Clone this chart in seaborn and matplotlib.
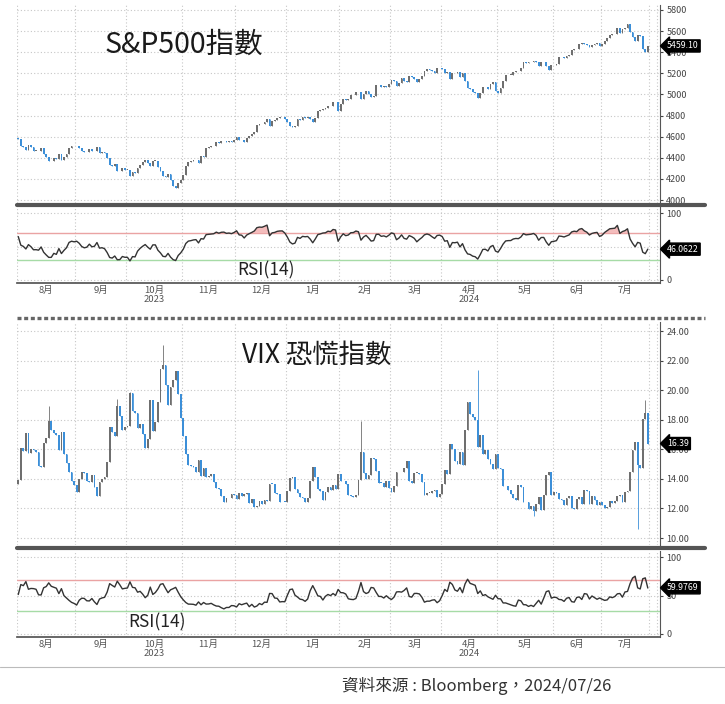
import matplotlib
matplotlib.use("Agg")
import matplotlib.pyplot as plt
from matplotlib.lines import Line2D
import numpy as np
import pandas as pd
import seaborn as sns

# ---- data: daily closes (Aug 2023 - Jul 2024) ----
# a few sessions before Aug 1 are only used to seed the RSI(14)
spx_warmup = [4389, 4366, 4381, 4348, 4329, 4378, 4376, 4396, 4450, 4455, 4446, 4412, 4399,
              4410, 4439, 4472, 4510, 4505, 4522, 4555, 4565, 4535, 4536, 4554, 4567, 4566,
              4537, 4582, 4589]
vix_warmup = [13.88, 13.20, 12.91, 13.44, 14.25, 13.74, 13.43, 13.54, 13.59, 13.57, 14.18, 15.44,
              14.83, 14.84, 14.75, 13.54, 13.61, 13.34, 13.48, 13.30, 13.76, 13.99, 13.60, 13.91,
              13.86, 13.19, 14.41, 13.33, 13.63]

spx_months = [
    [4577, 4513, 4502, 4478, 4518, 4499, 4468, 4469, 4464, 4490, 4437, 4404, 4370, 4370, 4400,
     4388, 4436, 4376, 4406, 4433, 4497, 4514, 4508],
    [4516, 4497, 4465, 4451, 4457, 4487, 4462, 4467, 4505, 4450, 4454, 4444, 4402, 4330, 4320,
     4337, 4274, 4275, 4300, 4288],
    [4288, 4229, 4263, 4258, 4308, 4336, 4358, 4377, 4350, 4327, 4373, 4373, 4314, 4278, 4224,
     4217, 4248, 4186, 4137, 4117, 4166, 4194],
    [4237, 4318, 4358, 4366, 4378, 4383, 4347, 4415, 4411, 4496, 4502, 4508, 4514, 4547, 4538,
     4556, 4559, 4550, 4555, 4551, 4568],
    [4595, 4569, 4567, 4549, 4585, 4604, 4622, 4644, 4707, 4720, 4719, 4740, 4768, 4698, 4747,
     4755, 4775, 4782, 4783, 4770],
    [4743, 4705, 4689, 4697, 4764, 4756, 4783, 4780, 4784, 4766, 4739, 4780, 4840, 4851, 4865,
     4869, 4894, 4891, 4928, 4925, 4846],
    [4906, 4959, 4943, 4954, 4995, 4998, 5027, 5022, 4953, 5001, 5030, 5006, 4976, 4982, 5087,
     5089, 5070, 5078, 5069, 5096],
    [5137, 5131, 5079, 5105, 5157, 5124, 5117, 5175, 5165, 5150, 5117, 5149, 5179, 5225, 5241,
     5234, 5218, 5204, 5248, 5254],
    [5243, 5205, 5211, 5147, 5204, 5202, 5209, 5161, 5199, 5123, 5061, 5051, 5022, 5011, 4967,
     5011, 5070, 5072, 5048, 5100, 5116, 5036],
    [5018, 5064, 5128, 5181, 5187, 5188, 5214, 5223, 5221, 5247, 5308, 5297, 5303, 5308, 5321,
     5307, 5268, 5305, 5306, 5267, 5236, 5278],
    [5283, 5291, 5354, 5352, 5347, 5361, 5375, 5421, 5434, 5431, 5473, 5487, 5473, 5465, 5448,
     5469, 5478, 5483, 5460],
    [5475, 5509, 5537, 5567, 5572, 5577, 5633, 5585, 5615, 5631, 5667, 5589, 5545, 5505, 5564,
     5555, 5427, 5399, 5459.10],
]

vix_months = [
    [13.93, 16.09, 15.92, 17.10, 15.77, 15.99, 15.96, 15.85, 14.84, 14.82, 16.46, 16.78, 17.89,
     17.30, 17.13, 16.97, 15.98, 17.20, 15.68, 15.08, 14.45, 13.88, 13.57],
    [13.09, 14.02, 14.45, 14.40, 13.84, 13.80, 14.23, 13.48, 12.82, 13.79, 14.00, 14.11, 15.14,
     17.54, 17.20, 16.90, 18.94, 18.22, 17.34, 17.52],
    [17.61, 19.78, 18.58, 18.49, 17.45, 17.70, 17.03, 16.09, 16.69, 19.32, 17.21, 17.88, 19.22,
     21.40, 21.71, 20.37, 18.97, 20.19, 20.68, 21.27, 19.75, 18.14],
    [16.87, 15.66, 14.91, 14.89, 14.81, 14.45, 15.29, 14.17, 14.76, 14.16, 14.18, 14.32, 13.80,
     13.41, 13.35, 12.85, 12.46, 12.69, 12.69, 12.98, 12.92],
    [12.63, 13.08, 12.85, 12.97, 13.06, 12.35, 12.63, 12.07, 12.19, 12.48, 12.28, 12.56, 12.53,
     13.67, 13.65, 13.03, 12.99, 12.43, 12.47, 12.45],
    [13.20, 14.04, 14.13, 13.35, 13.08, 12.76, 12.69, 12.44, 12.70, 13.84, 14.79, 14.13, 13.30,
     13.19, 12.55, 13.14, 13.45, 13.26, 13.60, 13.31, 14.35],
    [13.88, 13.85, 13.67, 12.93, 12.83, 12.79, 12.93, 13.93, 15.85, 14.38, 14.01, 14.24, 15.42,
     15.34, 14.54, 13.75, 13.74, 13.43, 13.84, 13.40],
    [13.11, 13.49, 14.46, 14.50, 14.44, 14.74, 15.23, 13.88, 13.75, 14.40, 14.41, 14.33, 13.82,
     12.92, 13.06, 13.06, 13.19, 13.24, 12.78, 13.01],
    [13.65, 14.61, 14.33, 16.35, 16.03, 15.19, 14.98, 15.80, 14.91, 17.31, 19.23, 18.40, 18.21,
     18.00, 16.14, 16.94, 15.69, 15.97, 15.37, 15.03, 14.67, 15.65],
    [14.72, 14.68, 13.49, 13.49, 13.23, 13.00, 12.69, 12.55, 13.60, 13.42, 12.45, 12.42, 11.99,
     12.15, 11.86, 12.29, 12.77, 11.93, 12.92, 14.28, 14.47, 12.92],
    [13.11, 13.06, 12.63, 12.58, 12.22, 12.74, 12.85, 12.04, 11.94, 12.66, 12.75, 12.30, 13.28,
     13.20, 12.33, 12.84, 12.55, 12.24, 12.44],
    [12.22, 12.03, 12.09, 12.48, 12.37, 12.51, 12.85, 12.89, 12.46, 13.12, 13.19, 14.48, 15.93,
     16.52, 14.91, 14.72, 18.04, 18.46, 16.39],
]

# intraday extremes visible as long wicks on the VIX bars: (month no., session in month, value)
vix_wick_highs = [(2, 14, 23.08), (2, 1, 19.90), (6, 8, 17.94), (8, 14, 21.36), (11, 17, 19.36),
                  (0, 12, 18.90), (1, 16, 19.40)]
vix_wick_lows = [(11, 14, 10.62), (9, 14, 11.52)]

month_labels = ["8月", "9月", "10月\n2023", "11月", "12月", "1月", "2月", "3月",
                "4月\n2024", "5月", "6月", "7月"]
extra_sessions = 4          # Jul 29 - Aug 1 2024, empty space at the right edge

spx_last_label = "5459.10"
vix_last_label = "16.39"
spx_rsi_last = 46.0622
vix_rsi_last = 59.9769

UP = "#6f6f6f"
DOWN = "#3c8fd8"
GRID = "#c6c6c6"
W, H = 725, 704


def rsi(closes, n=14):
    c = np.asarray(closes, dtype=float)
    d = np.diff(c)
    gain, loss = np.clip(d, 0, None), np.clip(-d, 0, None)
    ag, al = gain[:n].mean(), loss[:n].mean()
    out = np.full(len(c), np.nan)
    out[n] = 100 - 100 / (1 + ag / al)
    for i in range(n + 1, len(c)):
        ag = (ag * (n - 1) + gain[i - 1]) / n
        al = (al * (n - 1) + loss[i - 1]) / n
        out[i] = 100 - 100 / (1 + ag / al)
    return out


def build(warmup, months, wick_hi=(), wick_lo=()):
    closes = np.concatenate([np.asarray(m, float) for m in months])
    opens = np.concatenate([[warmup[-1]], closes[:-1]])
    highs = np.maximum(opens, closes)
    lows = np.minimum(opens, closes)
    starts = np.cumsum([0] + [len(m) for m in months])
    for mi, di, v in wick_hi:
        highs[starts[mi] + di] = max(highs[starts[mi] + di], v)
    for mi, di, v in wick_lo:
        lows[starts[mi] + di] = min(lows[starts[mi] + di], v)
    r = rsi(list(warmup) + list(closes))[len(warmup):]
    return pd.DataFrame({"x": np.arange(len(closes)), "open": opens, "high": highs,
                         "low": lows, "close": closes, "rsi": r}), starts


def rect(top, bottom):
    return [17 / W, 1 - bottom / H, 643 / W, (bottom - top) / H]


def draw_candles(ax, df, min_body):
    up = df["close"] >= df["open"]
    for mask, col in ((up, UP), (~up, DOWN)):
        d = df[mask]
        ax.vlines(d["x"], d["low"], d["high"], color=col, lw=0.6, zorder=3)
        body = np.maximum((d["close"] - d["open"]).abs(), min_body)
        ax.bar(d["x"], body, bottom=np.minimum(d["open"], d["close"]), width=0.72,
               color=col, linewidth=0, zorder=4)


def style_axis(ax, bounds, centers, show_months):
    for s in ("top", "left"):
        ax.spines[s].set_visible(False)
    ax.spines["right"].set_color("#555555")
    ax.spines["right"].set_linewidth(0.8)
    ax.spines["bottom"].set_visible(show_months)
    ax.spines["bottom"].set_color("#555555")
    ax.yaxis.tick_right()
    ax.tick_params(axis="y", direction="out", length=2.5, width=0.8, pad=2,
                   labelsize=6.5, colors="#444444")
    ax.set_xticks(bounds)
    ax.set_xticklabels([])
    ax.set_xticks(centers, minor=True)
    if show_months:
        ax.set_xticklabels(month_labels, minor=True, fontsize=6.8, color="#555555",
                           linespacing=1.0)
        ax.tick_params(axis="x", which="major", length=3, width=0.8, colors="#555555")
    ax.tick_params(axis="x", which="minor", length=0, pad=2)
    if not show_months:
        ax.tick_params(axis="x", which="major", length=0)
    ax.grid(True, which="major", color=GRID, lw=0.8, ls=(0, (1, 2)))
    ax.set_xlim(-0.5, n_total - 0.2)
    ax.set_xlabel("")
    ax.set_ylabel("")


def rsi_panel(ax, df, last_val, mid_label):
    ax.axhline(70, color="#eaa3a3", lw=1.0, zorder=2)
    ax.axhline(30, color="#a6dba6", lw=1.0, zorder=2)
    ax.fill_between(df["x"], df["rsi"], 70, where=df["rsi"] > 70, interpolate=True,
                    color="#f4bcbc", lw=0, zorder=2)
    ax.fill_between(df["x"], df["rsi"], 30, where=df["rsi"] < 30, interpolate=True,
                    color="#c4e8c4", lw=0, zorder=2)
    sns.lineplot(data=df, x="x", y="rsi", ax=ax, color="#333333", lw=1.0, zorder=5)
    ax.set_yticks([0, 50, 100])
    # the "50" label sits under the last-value box
    ax.set_yticklabels(["0", mid_label, "100"])
    last_label(ax, last_val, f"{last_val:.4f}")


def last_label(ax, y, text):
    ax.annotate(text, xy=(1.0, y), xycoords=ax.get_yaxis_transform(),
                xytext=(5, 0), textcoords="offset points", va="center", ha="left",
                fontsize=6.3, color="white", zorder=10, annotation_clip=False,
                bbox=dict(boxstyle="larrow,pad=0.18", fc="black", ec="black"))


sns.set_theme(style="white")
plt.rcParams["font.family"] = ["Noto Sans CJK TC", "DejaVu Sans"]

spx, starts = build(spx_warmup, spx_months)
vix, _ = build(vix_warmup, vix_months, vix_wick_highs, vix_wick_lows)
n_total = len(spx) + extra_sessions
bounds = list(starts - 0.5) + [n_total - 0.5 - 1]
centers = [(starts[i] + starts[i + 1] - 1) / 2 for i in range(len(starts) - 1)]

fig = plt.figure(figsize=(W / 100, H / 100), dpi=100)
fig.patch.set_facecolor("white")

ax1 = fig.add_axes(rect(5, 203))
ax2 = fig.add_axes(rect(207, 283))
ax3 = fig.add_axes(rect(322, 545))
ax4 = fig.add_axes(rect(551, 637))

# S&P 500
draw_candles(ax1, spx, 4)
ax1.set_ylim(3972, 5847)
ax1.set_yticks(np.arange(4000, 5801, 200))
ax1.set_yticklabels([f"{v:d}" for v in range(4000, 5801, 200)])
style_axis(ax1, bounds, centers, False)
ax1.grid(True, axis="y", color=GRID, lw=0.8, ls=(0, (1, 2)))
last_label(ax1, spx["close"].iloc[-1], spx_last_label)

ax2.set_ylim(-4.5, 109)
rsi_panel(ax2, spx, spx_rsi_last, "")
style_axis(ax2, bounds, centers, True)

# VIX
draw_candles(ax3, vix, 0.04)
ax3.set_ylim(9.53, 24.61)
ax3.set_yticks(np.arange(10, 24.1, 2))
ax3.set_yticklabels([f"{v:.2f}" for v in np.arange(10, 24.1, 2)])
style_axis(ax3, bounds, centers, False)
last_label(ax3, vix["close"].iloc[-1], vix_last_label)

ax4.set_ylim(-3.9, 107.8)
rsi_panel(ax4, vix, vix_rsi_last, "50")
style_axis(ax4, bounds, centers, True)

# separators
def hline(y, **kw):
    fig.add_artist(Line2D([kw.pop("x0", 17) / W, kw.pop("x1", 705) / W], [1 - y / H] * 2,
                          transform=fig.transFigure, **kw))

hline(205, color="#555555", lw=3)
hline(548, color="#555555", lw=3)
hline(318, color="#666666", lw=2.4, ls=(0, (1.2, 0.8)))
hline(667, x0=0, x1=W, color="#bbbbbb", lw=0.8)

title_font = ["Noto Sans CJK TC", "DejaVu Sans"]
fig.text(105 / W, 1 - 45 / H, "S&P500指數", fontsize=20.5, color="#1a1a1a",
         va="center", ha="left", family=title_font, weight="medium")
fig.text(242 / W, 1 - 355 / H, "VIX 恐慌指數", fontsize=19, color="#1a1a1a",
         va="center", ha="left", family=title_font, weight="medium")
fig.text(237 / W, 1 - 270 / H, "RSI(14)", fontsize=12.5, color="#222222",
         va="center", ha="left", family=title_font)
fig.text(128 / W, 1 - 622 / H, "RSI(14)", fontsize=12.5, color="#222222",
         va="center", ha="left", family=title_font)
fig.text(342 / W, 1 - 686 / H, "資料來源 : Bloomberg，2024/07/26", fontsize=12,
         color="#333333", va="center", ha="left", family=title_font)

fig.savefig("out.png", dpi=100)
